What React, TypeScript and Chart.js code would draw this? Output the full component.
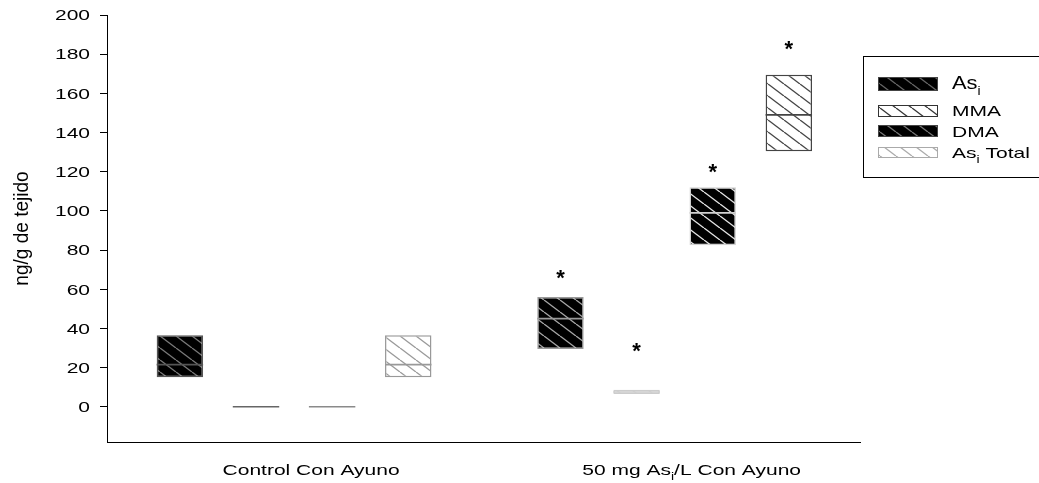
import React, { useEffect, useRef } from 'react';
import { Chart, registerables } from 'chart.js';

Chart.register(...registerables);

// ---------- data ----------
const categories = ['Control Con Ayuno', '50 mg As_{i}/L Con Ayuno'];
const categoryPositions = [1, 2];
const seriesNames = ['As_{i}', 'MMA', 'DMA', 'As_{i} Total'];

const asiLow = [15, 29.5];
const asiMedian = [21.5, 45];
const asiHigh = [36.5, 56];

const mmaLow = [0, 6.5];
const mmaMedian = [0, 7.5];
const mmaHigh = [0, 8.7];

const dmaLow = [0, 82.5];
const dmaMedian = [0, 99];
const dmaHigh = [0, 112];

const totalLow = [15, 130.5];
const totalMedian = [21.5, 149];
const totalHigh = [36.5, 169.5];

// significance markers (value where the asterisk sits; null = none)
const asiStar = [null, 68];
const mmaStar = [null, 30.5];
const dmaStar = [null, 122];
const totalStar = [null, 184.5];

const yTicks = [0, 20, 40, 60, 80, 100, 120, 140, 160, 180, 200];
const yMin = -18;
const yMax = 200;
const yTitle = 'ng/g de tejido';

// ---------- styles ----------
const FONT = "'Liberation Sans', Arial, Helvetica, sans-serif";
const SX = 1.4; // horizontal text stretch of the original picture

type BarStyle = { bg: string; line: string; border: string };
const seriesStyles: BarStyle[][] = [
  [
    { bg: '#000000', line: '#7a7a7a', border: '#555555' },
    { bg: '#000000', line: '#a8a8a8', border: '#999999' },
  ],
  [
    { bg: '#ffffff', line: '#333333', border: '#666666' },
    { bg: '#f2f2f2', line: '#c8c8c8', border: '#cccccc' },
  ],
  [
    { bg: '#000000', line: '#dddddd', border: '#8a8a8a' },
    { bg: '#000000', line: '#e6e6e6', border: '#d0d0d0' },
  ],
  [
    { bg: '#ffffff', line: '#999999', border: '#999999' },
    { bg: '#ffffff', line: '#444444', border: '#444444' },
  ],
];
const legendStyles: BarStyle[] = [
  { bg: '#000000', line: '#666666', border: '#444444' },
  { bg: '#ffffff', line: '#333333', border: '#333333' },
  { bg: '#000000', line: '#777777', border: '#444444' },
  { bg: '#ffffff', line: '#aaaaaa', border: '#aaaaaa' },
];

function makeHatch(bg: string, line: string): CanvasPattern | string {
  const w = 16;
  const h = 12;
  const c = document.createElement('canvas');
  c.width = w;
  c.height = h;
  const ctx = c.getContext('2d');
  if (!ctx) return bg;
  ctx.fillStyle = bg;
  ctx.fillRect(0, 0, w, h);
  ctx.strokeStyle = line;
  ctx.lineWidth = 1.3;
  for (const x0 of [-w, 0, w]) {
    ctx.beginPath();
    ctx.moveTo(x0, 0);
    ctx.lineTo(x0 + w, h);
    ctx.stroke();
  }
  const p = ctx.createPattern(c, 'repeat');
  return p || bg;
}

// parse "As_{i}" markup into parts
function parseRich(s: string): { text: string; sub: boolean }[] {
  const parts: { text: string; sub: boolean }[] = [];
  const re = /_\{([^}]*)\}/g;
  let last = 0;
  let m: RegExpExecArray | null;
  while ((m = re.exec(s))) {
    if (m.index > last) parts.push({ text: s.slice(last, m.index), sub: false });
    parts.push({ text: m[1], sub: true });
    last = m.index + m[0].length;
  }
  if (last < s.length) parts.push({ text: s.slice(last), sub: false });
  return parts;
}

// draw text with sub-scripts, horizontally stretched by sx
function drawRich(
  ctx: CanvasRenderingContext2D,
  s: string,
  x: number,
  y: number,
  size: number,
  align: 'left' | 'center' | 'right',
  color: string,
  sx: number
) {
  const parts = parseRich(s);
  const subSize = Math.round(size * 0.65);
  let total = 0;
  const widths = parts.map((p) => {
    ctx.font = `${p.sub ? subSize : size}px ${FONT}`;
    const w = ctx.measureText(p.text).width;
    total += w;
    return w;
  });
  ctx.save();
  ctx.translate(x, y);
  ctx.scale(sx, 1);
  let cx = align === 'center' ? -total / 2 : align === 'right' ? -total : 0;
  ctx.fillStyle = color;
  ctx.textAlign = 'left';
  ctx.textBaseline = 'alphabetic';
  parts.forEach((p, i) => {
    ctx.font = `${p.sub ? subSize : size}px ${FONT}`;
    ctx.fillText(p.text, cx, p.sub ? size * 0.3 : 0);
    cx += widths[i];
  });
  ctx.restore();
}

export default function App() {
  const canvasRef = useRef<HTMLCanvasElement | null>(null);

  useEffect(() => {
    const canvas = canvasRef.current;
    if (!canvas) return;

    const lows = [asiLow, mmaLow, dmaLow, totalLow];
    const highs = [asiHigh, mmaHigh, dmaHigh, totalHigh];
    const medians = [asiMedian, mmaMedian, dmaMedian, totalMedian];
    const stars = [asiStar, mmaStar, dmaStar, totalStar];

    const datasets = seriesNames.map((name, si) => ({
      label: name,
      data: categoryPositions.map((x, j) => ({ x, y: [lows[si][j], highs[si][j]] })),
      backgroundColor: seriesStyles[si].map((st) => makeHatch(st.bg, st.line)),
      borderColor: seriesStyles[si].map((st) => st.border),
      borderWidth: 1.5,
      borderSkipped: false as const,
      categoryPercentage: 0.8,
      barPercentage: 0.61,
    }));

    const legendPatterns = legendStyles.map((st) => makeHatch(st.bg, st.line));

    const overlay = {
      id: 'overlay',
      afterDatasetsDraw(chart: any) {
        const ctx: CanvasRenderingContext2D = chart.ctx;
        const yScale = chart.scales.y;
        const xScale = chart.scales.x;
        const area = chart.chartArea;
        ctx.save();
        // median lines + stars
        seriesNames.forEach((_, si) => {
          const meta = chart.getDatasetMeta(si);
          meta.data.forEach((bar: any, j: number) => {
            const { x, width } = bar.getProps(['x', 'width'], true);
            const ym = yScale.getPixelForValue(medians[si][j]);
            ctx.strokeStyle = seriesStyles[si][j].border;
            ctx.lineWidth = 1.6;
            ctx.beginPath();
            ctx.moveTo(x - width / 2, ym);
            ctx.lineTo(x + width / 2, ym);
            ctx.stroke();
            const sv = stars[si][j];
            if (sv !== null && sv !== undefined) {
              const ys = yScale.getPixelForValue(sv);
              ctx.fillStyle = '#000';
              ctx.font = `bold 22px ${FONT}`;
              ctx.textAlign = 'center';
              ctx.textBaseline = 'middle';
              ctx.fillText('*', x, ys + 5);
            }
          });
        });
        // y tick labels
        yScale.ticks.forEach((t: any) => {
          const py = yScale.getPixelForValue(t.value);
          drawRich(ctx, String(t.value), area.left - 17, py + 5.3, 15, 'right', '#000', SX);
        });
        // y title (rotated)
        ctx.save();
        ctx.translate(28, (area.top + area.bottom) / 2);
        ctx.rotate(-Math.PI / 2);
        ctx.scale(1.27, 1.4);
        ctx.font = `15px ${FONT}`;
        ctx.fillStyle = '#000';
        ctx.textAlign = 'center';
        ctx.textBaseline = 'alphabetic';
        ctx.fillText(yTitle, 0, 0);
        ctx.restore();
        // category labels
        categories.forEach((c, j) => {
          const px = xScale.getPixelForValue(categoryPositions[j]) + 17;
          drawRich(ctx, c, px, area.bottom + 33, 15, 'center', '#000', SX);
        });
        // legend
        const lx = 863;
        const ly = 56;
        ctx.strokeStyle = '#000';
        ctx.lineWidth = 1;
        ctx.strokeRect(lx + 0.5, ly + 0.5, 200, 121);
        const swatchTop = [77, 105, 125, 147];
        const swatchH = [14, 12, 12, 11];
        const baselines = [89, 116, 136.5, 158];
        const sizes = [19, 15, 15, 15];
        const stretch = [1.15, SX, SX, SX];
        seriesNames.forEach((name, si) => {
          ctx.fillStyle = legendPatterns[si] as any;
          ctx.fillRect(878, swatchTop[si], 60, swatchH[si]);
          ctx.strokeStyle = legendStyles[si].border;
          ctx.lineWidth = 1;
          ctx.strokeRect(878.5, swatchTop[si] + 0.5, 59, swatchH[si] - 1);
          drawRich(ctx, name, 952, baselines[si], sizes[si], 'left', '#000', stretch[si]);
        });
        ctx.restore();
      },
    };

    const chart = new Chart(canvas, {
      type: 'bar',
      data: { datasets: datasets as any },
      options: {
        responsive: false,
        animation: false,
        maintainAspectRatio: false,
        layout: { padding: { left: 0, right: 179, top: 15, bottom: 0 } },
        plugins: { legend: { display: false }, tooltip: { enabled: false } },
        scales: {
          x: {
            type: 'linear',
            min: 0.5085,
            max: 2.487,
            offset: false,
            afterBuildTicks: (s: any) => {
              s.ticks = categoryPositions.map((v) => ({ value: v }));
            },
            ticks: { display: false },
            grid: { display: false },
            border: { display: true, color: '#000', width: 1 },
            afterFit: (s: any) => {
              s.height = 41;
            },
          },
          y: {
            type: 'linear',
            min: yMin,
            max: yMax,
            afterBuildTicks: (s: any) => {
              s.ticks = yTicks.map((v) => ({ value: v }));
            },
            grid: { drawOnChartArea: false, drawTicks: true, tickLength: 7, color: '#000', lineWidth: 1 },
            border: { display: true, color: '#000', width: 1 },
            ticks: { display: false },
            title: { display: false },
            afterFit: (s: any) => {
              s.width = 107;
            },
          },
        },
      },
      plugins: [overlay],
    } as any);

    return () => {
      chart.destroy();
    };
  }, []);

  return (
    <div style={{ position: 'fixed', left: 0, top: 0, width: 1039, height: 483, background: '#fff' }}>
      <canvas ref={canvasRef} width={1039} height={483} style={{ width: 1039, height: 483 }} />
    </div>
  );
}
